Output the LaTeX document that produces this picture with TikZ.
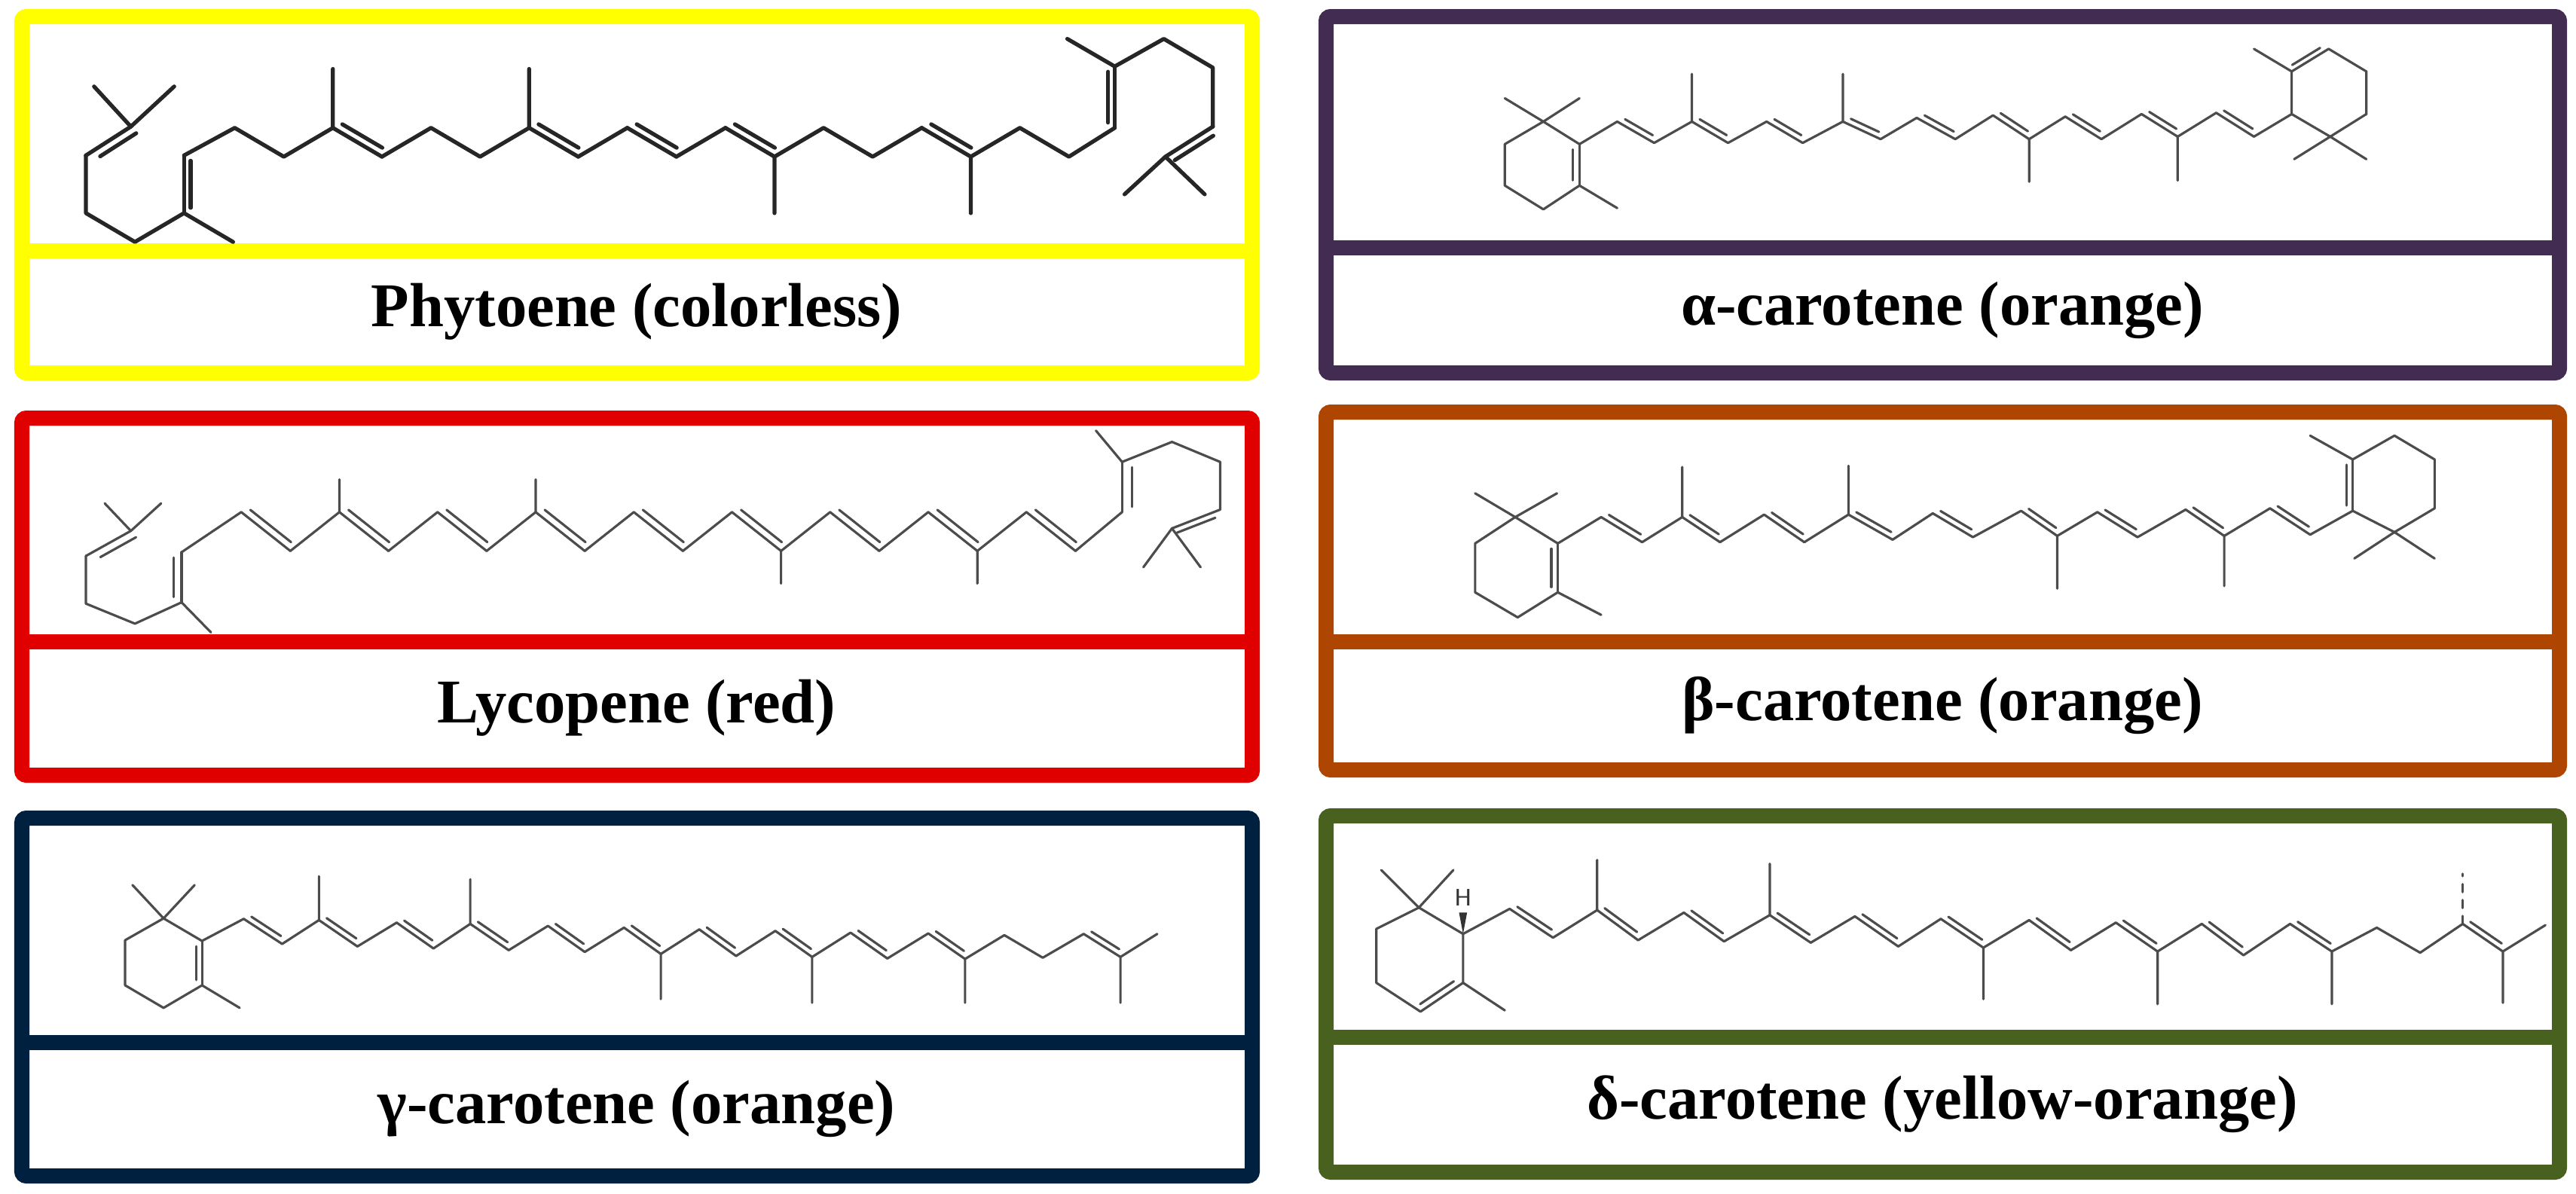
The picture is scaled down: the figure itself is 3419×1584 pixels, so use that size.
\documentclass[tikz,border=0pt]{standalone}
\usepackage{fontspec}
\setmainfont{Liberation Serif}
\definecolor{cyel}{HTML}{FFFF00}
\definecolor{cpur}{HTML}{432C52}
\definecolor{cred}{HTML}{E00000}
\definecolor{cbrn}{HTML}{AE4500}
\definecolor{cnav}{HTML}{00203F}
\definecolor{cgrn}{HTML}{49611F}
\newcommand\db[6]{\draw (#1,#2)--(#3,#4); \draw[shorten <=2pt,shorten >=2pt] (#1+#5,#2+#6)--(#3+#5,#4+#6);}
\tikzset{
  frame/.style={line width=0.2cm, rounded corners=0.06cm},
  lab/.style={font=\fontsize{23.5}{28}\selectfont\bfseries, anchor=center},
  mol/.style={line width=0.9pt, black!70, line cap=round, line join=round},
  zl/.style={x=0.010842cm, y=-0.003333cm},
  zr/.style={x=0.010644cm, y=-0.003333cm}
}
\begin{document}
\begin{tikzpicture}[x=0.01cm,y=-0.01cm]
\useasboundingbox (0,0) rectangle (3419,1584);
% frames
\draw[frame,cyel] (29,22) rectangle (1662,495); \draw[frame,cyel] (29,333)--(1662,333);
\draw[frame,cpur] (1760,22) rectangle (3397,495); \draw[frame,cpur] (1760,329)--(3397,329);
\draw[frame,cred] (29,555) rectangle (1662,1029); \draw[frame,cred] (29,852)--(1662,852);
\draw[frame,cbrn] (1760,547) rectangle (3397,1022); \draw[frame,cbrn] (1760,852)--(3397,852);
\draw[frame,cnav] (29,1086) rectangle (1662,1561); \draw[frame,cnav] (29,1384)--(1662,1384);
\draw[frame,cgrn] (1760,1083) rectangle (3397,1556); \draw[frame,cgrn] (1760,1377)--(3397,1377);
% labels
\node[lab] (l1) at (845,414) {Phytoene (colorless)};
\node[lab] (l2) at (2578,412) {α-carotene (orange)};
\node[lab] (l3) at (845,940) {Lycopene (red)};
\node[lab] (l4) at (2578,937) {β-carotene (orange)};
\node[lab] (l5) at (845,1472) {γ-carotene (orange)};
\node[lab] (l6) at (2578,1466) {δ-carotene (yellow-orange)};
% Phytoene
\begin{scope}[shift={(0,0)},zl,mol,line width=1.5pt,black!85]
\draw (115,345)--(160,505)--(213,345);
\db{160}{505}{105}{620}{12}{15}
\draw (105,620)--(105,850)--(165,965)--(225,850)--(285,965);
\db{225}{850}{225}{620}{8}{0}
\draw (225,620)--(287,510)--(347,625)--(407,510) (407,510)--(407,275);
\db{407}{510}{467}{625}{6}{-25}
\draw (467,625)--(527,510)--(587,625)--(647,510) (647,510)--(647,275);
\db{647}{510}{707}{625}{6}{-25}
\draw (707,625)--(767,510);
\db{767}{510}{827}{625}{6}{-25}
\draw (827,625)--(887,510);
\db{887}{510}{947}{625}{6}{-25}
\draw (947,625)--(947,850) (947,625)--(1007,510)--(1067,625)--(1127,510);
\db{1127}{510}{1187}{625}{6}{-25}
\draw (1187,625)--(1187,850) (1187,625)--(1247,510)--(1307,625)--(1363,510);
\db{1363}{510}{1363}{265}{-8}{0}
\draw (1363,265)--(1305,155) (1363,265)--(1423,155)--(1483,270)--(1483,505);
\db{1483}{505}{1425}{625}{6}{25}
\draw (1425,625)--(1375,775) (1425,625)--(1473,775);
\end{scope}
% Lycopene
\begin{scope}[shift={(0,540)},zl,mol]
\draw (128,385)--(160,495)--(197,385);
\db{160}{495}{105}{595}{12}{15}
\draw (105,595)--(105,785)--(165,865)--(222,780)--(258,900);
\db{222}{780}{222}{580}{-10}{0}
\draw (222,580)--(295,420);
\db{295}{420}{355}{575}{6}{-22}
\draw (355,575)--(415,420) (415,420)--(415,290);
\db{415}{420}{475}{575}{6}{-22}
\draw (475,575)--(535,420);
\db{535}{420}{595}{575}{6}{-22}
\draw (595,575)--(655,420) (655,420)--(655,290);
\db{655}{420}{715}{575}{6}{-22}
\draw (715,575)--(775,420);
\db{775}{420}{835}{575}{6}{-22}
\draw (835,575)--(895,420);
\db{895}{420}{955}{575}{6}{-22}
\draw (955,575)--(955,705) (955,575)--(1015,420);
\db{1015}{420}{1075}{575}{6}{-22}
\draw (1075,575)--(1135,420);
\db{1135}{420}{1195}{575}{6}{-22}
\draw (1195,575)--(1195,705) (1195,575)--(1255,420);
\db{1255}{420}{1315}{575}{6}{-22}
\draw (1315,575)--(1372,420);
\db{1372}{420}{1372}{220}{12}{0}
\draw (1372,220)--(1340,95) (1372,220)--(1433,140)--(1492,220)--(1492,410);
\db{1492}{410}{1433}{485}{0}{25}
\draw (1433,485)--(1398,640) (1433,485)--(1468,640);
\end{scope}
% alpha-carotene
\begin{scope}[shift={(1750,0)},zr,mol]
\draw (232,392)--(280,485)--(325,392) (280,485)--(232,575)--(232,740)--(280,835)--(325,740)--(372,830) (280,485)--(325,575);
\db{325}{740}{325}{575}{-8}{0}
\draw (325,575)--(372,485);
\db{372}{485}{418}{570}{4}{-20}
\draw (418,570)--(465,485) (465,485)--(465,295);
\db{465}{485}{510}{570}{4}{-20}
\draw (510,570)--(558,485);
\db{558}{485}{603}{570}{4}{-20}
\draw (603,570)--(653,485) (653,485)--(653,295);
\db{653}{485}{700}{555}{4}{-20}
\draw (700,555)--(745,470);
\db{745}{470}{793}{555}{4}{-20}
\draw (793,555)--(840,460);
\db{840}{460}{885}{555}{4}{-20}
\draw (885,555)--(885,725) (885,555)--(930,465);
\db{930}{465}{975}{555}{4}{-20}
\draw (975,555)--(1025,455);
\db{1025}{455}{1070}{545}{4}{-20}
\draw (1070,545)--(1070,720) (1070,545)--(1118,450);
\db{1118}{450}{1165}{545}{4}{-20}
\draw (1165,545)--(1212,455) (1212,455)--(1212,285) (1212,285)--(1165,195);
\db{1212}{285}{1258}{195}{-5}{-15}
\draw (1258,195)--(1305,285)--(1305,455)--(1260,545)--(1212,455) (1260,545)--(1215,635) (1260,545)--(1305,635);
\end{scope}
% beta-carotene
\begin{scope}[shift={(1750,540)},zr,mol]
\draw (195,345)--(245,440)--(297,345) (245,440)--(195,545)--(195,740)--(248,840)--(298,740)--(352,830) (245,440)--(298,545);
\db{298}{740}{298}{545}{-8}{0}
\draw (298,545)--(352,440);
\db{352}{440}{403}{540}{4}{-20}
\draw (403,540)--(453,440) (453,440)--(453,240);
\db{453}{440}{500}{540}{4}{-20}
\draw (500,540)--(555,430);
\db{555}{430}{605}{540}{4}{-20}
\draw (605,540)--(660,430) (660,430)--(660,235);
\db{660}{430}{715}{530}{4}{-20}
\draw (715,530)--(765,425);
\db{765}{425}{815}{520}{4}{-20}
\draw (815,520)--(875,415);
\db{875}{415}{920}{515}{4}{-20}
\draw (920,515)--(920,725) (920,515)--(970,420);
\db{970}{420}{1020}{520}{4}{-20}
\draw (1020,520)--(1080,410);
\db{1080}{410}{1128}{515}{4}{-20}
\draw (1128,515)--(1128,715) (1128,515)--(1185,405);
\db{1185}{405}{1235}{510}{4}{-20}
\draw (1235,510)--(1288,415);
\db{1288}{415}{1288}{210}{-8}{0}
\draw (1288,210)--(1235,115) (1288,210)--(1340,115)--(1390,210)--(1390,405)--(1340,500)--(1288,415) (1340,500)--(1290,605) (1340,500)--(1390,605);
\end{scope}
% gamma-carotene
\begin{scope}[shift={(0,1060)},zl,mol]
\draw (162,345)--(200,478)--(238,345) (200,478)--(153,565)--(153,745)--(200,835)--(247,745)--(293,835) (200,478)--(247,568);
\db{247}{745}{247}{568}{-7}{0}
\draw (247,568)--(298,480);
\db{298}{480}{345}{580}{4}{-20}
\draw (345,580)--(390,485) (390,485)--(390,310);
\db{390}{485}{437}{590}{4}{-20}
\draw (437,590)--(485,495);
\db{485}{495}{530}{598}{4}{-20}
\draw (530,598)--(575,500) (575,500)--(575,322);
\db{575}{500}{622}{605}{4}{-20}
\draw (622,605)--(670,508);
\db{670}{508}{715}{612}{4}{-20}
\draw (715,612)--(763,515);
\db{763}{515}{808}{620}{4}{-20}
\draw (808,620)--(808,800) (808,620)--(855,522);
\db{855}{522}{900}{628}{4}{-20}
\draw (900,628)--(948,528);
\db{948}{528}{993}{632}{4}{-20}
\draw (993,632)--(993,815) (993,632)--(1040,535);
\db{1040}{535}{1085}{638}{4}{-20}
\draw (1085,638)--(1135,538);
\db{1135}{538}{1180}{640}{4}{-20}
\draw (1180,640)--(1180,815) (1180,640)--(1228,545)--(1275,635)--(1325,540);
\db{1325}{540}{1370}{632}{4}{-20}
\draw (1370,632)--(1370,815) (1370,632)--(1415,540);
\end{scope}
% delta-carotene
\begin{scope}[shift={(1750,1060)},zr,mol]
\draw (78,285)--(125,435)--(168,285) (125,435)--(72,520)--(72,735)--(127,850) (180,735)--(232,845) (180,735)--(180,540)--(125,435);
\db{127}{850}{180}{735}{-6}{-18}
\fill[black!80] (180,540)--(175,455)--(185,455)--cycle;
\node[font=\fontsize{9}{10}\selectfont\sffamily, black!80] (hh) at (180,395) {H};
\draw (180,540)--(238,440);
\db{238}{440}{292}{555}{4}{-20}
\draw (292,555)--(347,445) (347,445)--(347,245);
\db{347}{445}{398}{565}{4}{-20}
\draw (398,565)--(455,455);
\db{455}{455}{505}{570}{4}{-20}
\draw (505,570)--(562,465) (562,465)--(562,260);
\db{562}{465}{613}{575}{4}{-20}
\draw (613,575)--(668,470);
\db{668}{470}{722}{590}{4}{-20}
\draw (722,590)--(775,480);
\db{775}{480}{828}{595}{4}{-20}
\draw (828,595)--(828,800) (828,595)--(885,485);
\db{885}{485}{937}{605}{4}{-20}
\draw (937,605)--(993,495);
\db{993}{495}{1045}{610}{4}{-20}
\draw (1045,610)--(1045,820) (1045,610)--(1100,500);
\db{1100}{500}{1152}{625}{4}{-20}
\draw (1152,625)--(1210,500);
\db{1210}{500}{1262}{610}{4}{-20}
\draw (1262,610)--(1262,820) (1262,610)--(1318,515)--(1372,615)--(1425,500);
\draw[dashed] (1425,500)--(1425,300);
\db{1425}{500}{1475}{610}{4}{-20}
\draw (1475,610)--(1475,815) (1475,610)--(1528,505);
\end{scope}
\end{tikzpicture}
\end{document}
